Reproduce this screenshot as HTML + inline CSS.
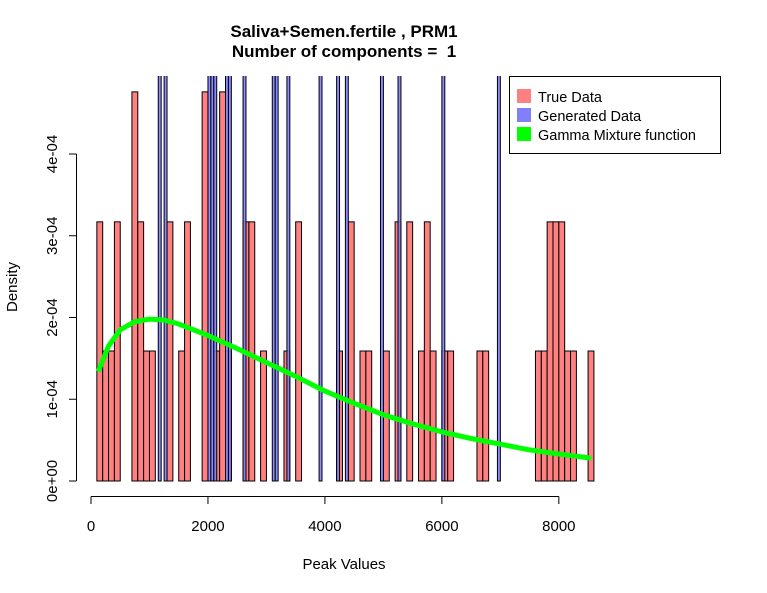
<!DOCTYPE html>
<html><head><meta charset="utf-8"><style>
html,body{margin:0;padding:0;background:#fff;}
svg{display:block;font-family:"Liberation Sans",Arial,sans-serif;}
</style></head><body>
<svg id="chart" width="767" height="593" viewBox="0 0 767 593" xmlns="http://www.w3.org/2000/svg">
<rect width="767" height="593" fill="#fff"/>
<text x="344" y="37" text-anchor="middle" font-weight="bold" font-size="17">Saliva+Semen.fertile , PRM1</text>
<text x="344" y="57" text-anchor="middle" font-weight="bold" font-size="17" xml:space="preserve">Number of components =  1</text>
<defs><clipPath id="plotclip"><rect x="60" y="76" width="700" height="420"/></clipPath></defs>
<g id="bars" clip-path="url(#plotclip)"></g>
<g id="axes"></g>
<text x="344" y="569" text-anchor="middle" font-size="15">Peak Values</text>
<text transform="translate(17,287) rotate(-90)" text-anchor="middle" font-size="15">Density</text>
<g>
<rect x="509.5" y="76.5" width="211" height="77" fill="#fff" stroke="#000"/>
<rect x="517" y="89" width="14" height="14" fill="#ff8080"/>
<text x="538" y="102" font-size="14.5">True Data</text>
<rect x="517" y="108" width="14" height="14" fill="#8080ff"/>
<text x="538" y="121" font-size="14.5">Generated Data</text>
<rect x="517" y="127" width="14" height="14" fill="#00ff00"/>
<text x="538" y="140" font-size="14.5">Gamma Mixture function</text>
</g>
</svg>
<script>
// True data histogram: bin left edges (width 100) and densities (e-4)
const trueBins = [100,200,300,400,700,800,900,1000,1300,1500,1600,1900,2100,2200,2300,2600,2700,2900,3300,3500,4200,4400,4600,4700,5000,5200,5400,5600,5700,5800,6000,6100,6600,6700,7600,7700,7800,7900,8000,8100,8200,8500];
const trueDens = [3.17,1.59,1.59,3.17,4.76,3.17,1.59,1.59,3.17,1.59,3.17,4.76,1.59,4.76,1.59,3.17,3.17,1.59,1.59,3.17,1.59,3.17,1.59,1.59,1.59,3.17,3.17,1.59,3.17,1.59,1.59,1.59,1.59,1.59,1.59,1.59,3.17,3.17,3.17,1.59,1.59,1.59];
// Generated data histogram: bin left edges (width 50), densities (exceed plot top)
const genBins = [1150,1250,2000,2050,2100,2300,2350,2600,3100,3150,3350,3900,4200,4350,4950,5250,6000,6950];
const genDens = [20,20,20,20,20,20,20,20,20,20,20,20,20,20,20,20,20,20];
// Gamma mixture curve samples (x, density e-4)
const curveX = [125,300,500,750,1000,1250,1500,2000,2500,3000,3500,4000,4500,5000,5500,6000,6500,7000,7500,8000,8550];
const curveY = [1.34,1.65,1.85,1.95,1.98,1.97,1.92,1.78,1.62,1.45,1.28,1.10,0.95,0.81,0.70,0.60,0.52,0.45,0.38,0.33,0.28];
const xTicks = [0,2000,4000,6000,8000];
const yTicks = [0,1,2,3,4];
const yTickLabels = ["0e+00","1e-04","2e-04","3e-04","4e-04"];

const NS = "http://www.w3.org/2000/svg";
const sx = v => 91 + v * 0.05848;
const sy = d => 481 - d * 81.75;
const bars = document.getElementById('bars');
const axes = document.getElementById('axes');
function mk(tag, attrs, parent) {
  const e = document.createElementNS(NS, tag);
  for (const k in attrs) e.setAttribute(k, attrs[k]);
  parent.appendChild(e);
  return e;
}
trueBins.forEach((b, i) => {
  const r = mk('rect', {x: sx(b), y: sy(trueDens[i]), width: sx(b + 100) - sx(b), height: sy(0) - sy(trueDens[i]), fill: '#ff8080', stroke: '#000', 'stroke-width': 1}, bars);
  
  
});
genBins.forEach((b, i) => {
  const r = mk('rect', {x: sx(b), y: sy(genDens[i]), width: sx(b + 50) - sx(b), height: sy(0) - sy(genDens[i]), fill: 'rgba(128,128,255,0.9)', stroke: '#000', 'stroke-width': 1}, bars);
  
  
});
const pts = curveX.map((x, i) => sx(x).toFixed(1) + ',' + sy(curveY[i]).toFixed(1)).join(' ');
const pl = mk('polyline', {points: pts, fill: 'none', stroke: '#00ff00', 'stroke-width': 5, 'stroke-linejoin': 'round'}, bars);



const xl = mk('line', {x1: sx(xTicks[0]), x2: sx(xTicks[xTicks.length - 1]), y1: 496.5, y2: 496.5, stroke: '#000'}, axes);


xTicks.forEach(t => {
  mk('line', {x1: sx(t), x2: sx(t), y1: 496.5, y2: 504, stroke: '#000'}, axes);
  const tx = mk('text', {x: sx(t), y: 531, 'text-anchor': 'middle', 'font-size': 15}, axes);
  tx.textContent = String(t);
  
  
});
const yl = mk('line', {x1: 76.5, x2: 76.5, y1: sy(yTicks[0]), y2: sy(yTicks[yTicks.length - 1]), stroke: '#000'}, axes);


yTicks.forEach((t, i) => {
  mk('line', {x1: 69, x2: 76.5, y1: sy(t), y2: sy(t), stroke: '#000'}, axes);
  const tx = mk('text', {transform: 'translate(57,' + sy(t) + ') rotate(-90)', 'text-anchor': 'middle', 'font-size': 15}, axes);
  tx.textContent = yTickLabels[i];
  
  
});
</script>
</body></html>
